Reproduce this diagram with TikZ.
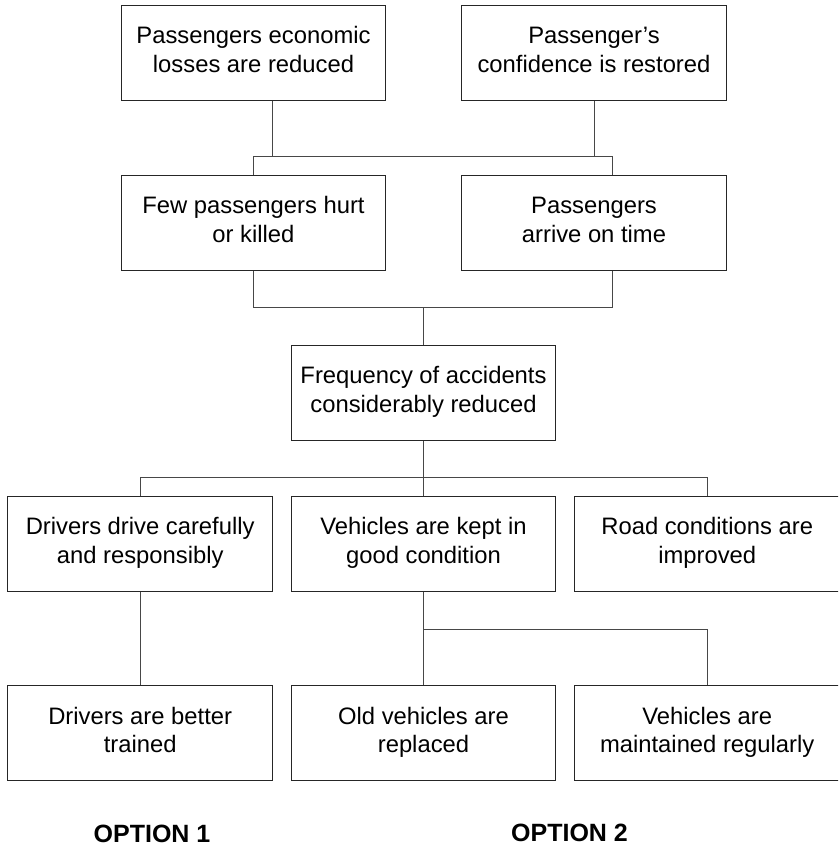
\documentclass[tikz,border=0pt]{standalone}
\usepackage{fontspec}
\setmainfont{Liberation Sans}
\begin{document}
\begin{tikzpicture}[x=1pt,y=-1pt,
  box/.style={draw=black!85, line width=1pt, rectangle, minimum width=264.5pt,
    minimum height=94.5pt, align=center, inner sep=2pt, text depth=6.5pt,
    font=\fontsize{23.8}{28.8}\selectfont},
  conn/.style={draw=black!72, line width=0.9pt},
  optlabel/.style={anchor=base, inner sep=0pt, font=\fontsize{25}{30}\selectfont\bfseries}]
\useasboundingbox (0,0) rectangle (838,845);
\clip (0,0) rectangle (838,845);
% row 1
\node[box] (a1) at (253.5,52.85) {Passengers economic\\losses are reduced};
\node[box] (a2) at (594,52.85) {Passenger’s\\confidence is restored};
% row 2
\node[box] (b1) at (253.5,222.85) {Few passengers hurt\\or killed};
\node[box] (b2) at (594,222.85) {Passengers\\arrive on time};
% middle
\node[box] (c) at (423.5,393) {Frequency of accidents\\considerably reduced};
% row 4
\node[box] (d1) at (140.2,543.9) {Drivers drive carefully\\and responsibly};
\node[box] (d2) at (423.5,543.9) {Vehicles are kept in\\good condition};
\node[box] (d3) at (707.2,543.9) {Road conditions are\\improved};
% row 5
\node[box] (e1) at (140.2,733.15) {Drivers are better\\trained};
\node[box] (e2) at (423.5,733.15) {Old vehicles are\\replaced};
\node[box] (e3) at (707.2,733.15) {Vehicles are\\maintained regularly};
% labels
\node[optlabel] (o1) at (152,842.3) {OPTION 1};
\node[optlabel] (o2) at (569.5,841.7) {OPTION 2};
% junctions
\coordinate (j1) at (0,156.7);
\coordinate (j2) at (0,307.3);
\coordinate (j3) at (0,477.9);
\coordinate (j4) at (0,629.3);
% row1 -> row2
\draw[conn] ([xshift=19pt]a1.south) -- ([xshift=19pt]a1.south |- j1);
\draw[conn] (a2.south) -- (a2.south |- j1);
\draw[conn] (b1.north) |- ([xshift=18.4pt]b2.north |- j1) -- ([xshift=18.4pt]b2.north);
% row2 -> middle
\draw[conn] (b1.south) |- ([xshift=18.4pt]b2.south |- j2) -- ([xshift=18.4pt]b2.south);
\draw[conn] (c.north) -- (c.north |- j2);
% middle -> row4
\draw[conn] (c.south) -- (d2.north);
\draw[conn] (d1.north) |- (d3.north |- j3) -- (d3.north);
% row4 -> row5
\draw[conn] (d1.south) -- (e1.north);
\draw[conn] (d2.south) -- (e2.north);
\draw[conn] (d2.south |- j4) -| (e3.north);
\end{tikzpicture}
\end{document}
